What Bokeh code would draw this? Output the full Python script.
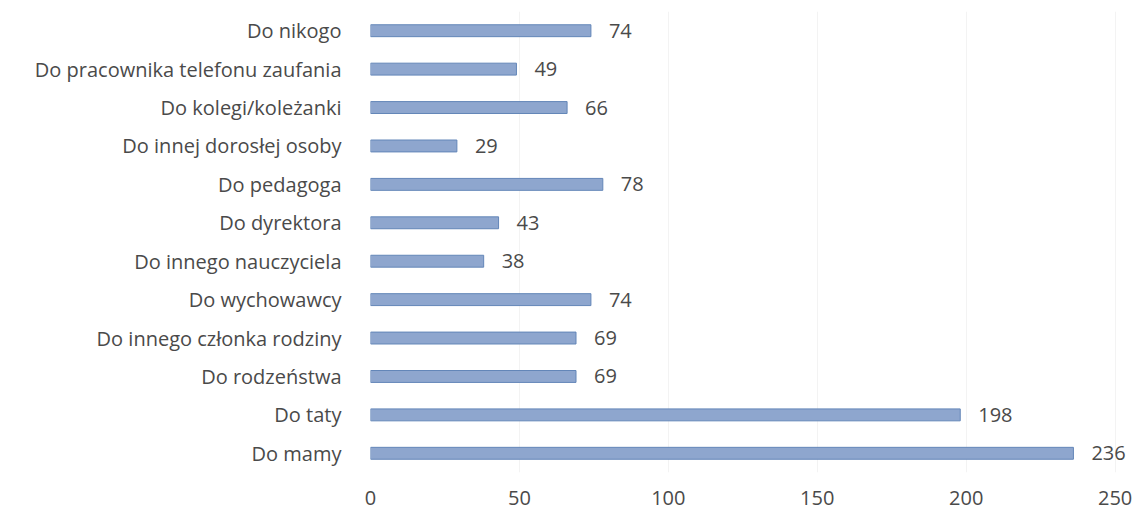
from bokeh.plotting import figure
from bokeh.models import ColumnDataSource, LabelSet, FactorRange, Range1d, FixedTicker
from bokeh.core.properties import value
from bokeh.embed import file_html
from bokeh.resources import INLINE

categories = ["Do mamy", "Do taty", "Do rodzeństwa", "Do innego członka rodziny",
              "Do wychowawcy", "Do innego nauczyciela", "Do dyrektora", "Do pedagoga",
              "Do innej dorosłej osoby", "Do kolegi/koleżanki",
              "Do pracownika telefonu zaufania", "Do nikogo"]
values = [236, 198, 69, 69, 74, 38, 43, 78, 29, 66, 49, 74]
x_ticks = [0, 50, 100, 150, 200, 250]

FONT = "Open Sans"
TXT = "#4a4a4a"
FS = "20px"

src = ColumnDataSource(dict(cat=categories, val=values, lab=[str(v) for v in values]))

p = figure(y_range=FactorRange(*categories, range_padding=0), x_range=Range1d(0, 255.5),
           width=1133, height=513, output_backend="svg", toolbar_location=None,
           min_border_left=370, min_border_right=2, min_border_top=11, min_border_bottom=41)
p.hbar(y="cat", right="val", left=0, height=0.31, source=src,
       fill_color="#8ea6ce", line_color="#6386b8", line_width=1)

labels = LabelSet(x="val", y="cat", text="lab", source=src, x_offset=18,
                  text_baseline="middle", text_align="left", text_font=value(FONT),
                  text_font_size=value(FS), text_color=value(TXT))
p.add_layout(labels)

p.outline_line_color = None
p.background_fill_color = "white"
p.ygrid.grid_line_color = None
p.xgrid.grid_line_color = "#f3f3f3"
p.xaxis.ticker = FixedTicker(ticks=x_ticks)
for ax in (p.xaxis[0], p.yaxis[0]):
    ax.axis_line_color = None
    ax.major_tick_line_color = None
    ax.minor_tick_line_color = None
    ax.major_label_text_font = FONT
    ax.major_label_text_font_size = FS
    ax.major_label_text_color = TXT
p.xaxis.major_label_standoff = 12
p.yaxis.major_label_standoff = 23

open("out.html", "w").write(file_html(p, INLINE))
